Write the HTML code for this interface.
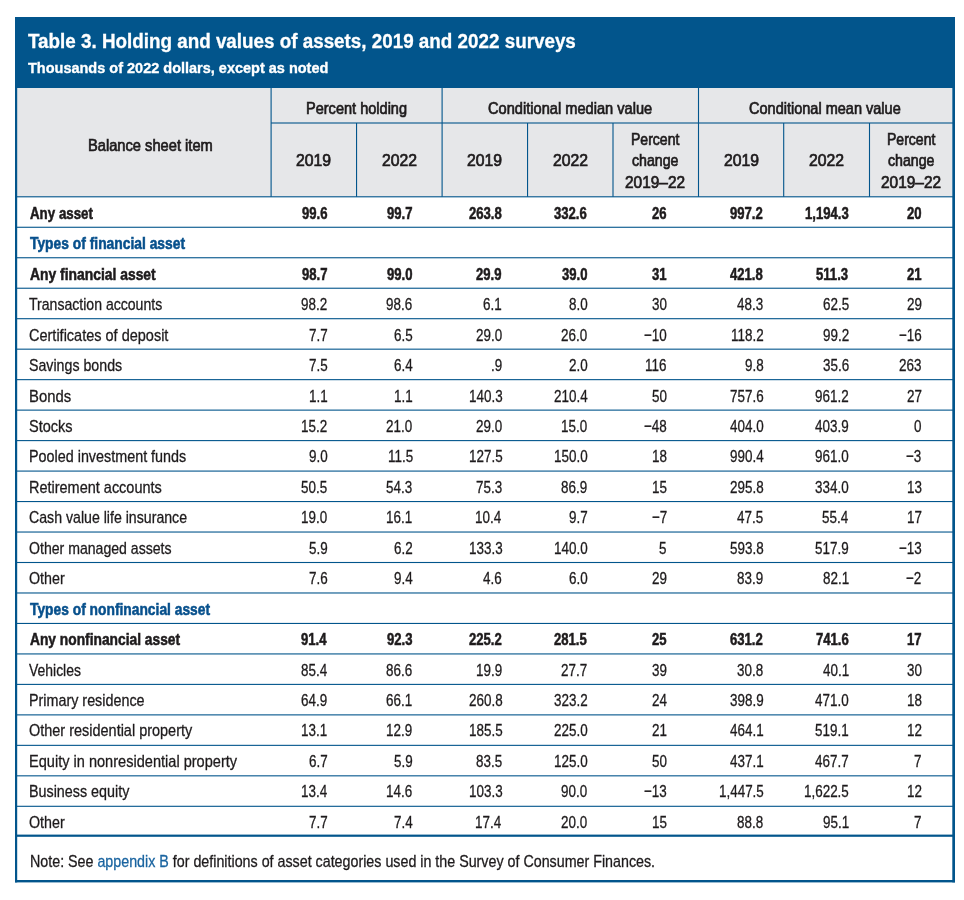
<!DOCTYPE html>
<html><head><meta charset="utf-8"><title>Table 3. Holding and values of assets, 2019 and 2022 surveys</title>
<style>
html,body{margin:0;padding:0;background:#fff;}
body{width:964px;height:900px;position:relative;overflow:hidden;font-family:"Liberation Sans", sans-serif;}
.t{position:absolute;white-space:nowrap;transform-origin:0 0;backface-visibility:hidden;}
</style></head><body>
<div style="position:absolute;left:15px;top:17px;width:940px;height:71px;background:#02558c"></div>
<div style="position:absolute;left:17px;top:88px;width:935px;height:109px;background:#e6e7e9"></div>
<svg width="964" height="900" style="position:absolute;left:0;top:0"><rect x="271.1" y="122.45" width="681.9" height="1.1" fill="#02558c"/><rect x="16" y="196.25" width="937" height="1.1" fill="#02558c"/><rect x="16" y="226.72" width="937" height="1.1" fill="#02558c"/><rect x="16" y="257.20" width="937" height="1.1" fill="#02558c"/><rect x="16" y="287.68" width="937" height="1.1" fill="#02558c"/><rect x="16" y="318.15" width="937" height="1.1" fill="#02558c"/><rect x="16" y="348.62" width="937" height="1.1" fill="#02558c"/><rect x="16" y="379.10" width="937" height="1.1" fill="#02558c"/><rect x="16" y="409.57" width="937" height="1.1" fill="#02558c"/><rect x="16" y="440.05" width="937" height="1.1" fill="#02558c"/><rect x="16" y="470.53" width="937" height="1.1" fill="#02558c"/><rect x="16" y="501.00" width="937" height="1.1" fill="#02558c"/><rect x="16" y="531.48" width="937" height="1.1" fill="#02558c"/><rect x="16" y="561.95" width="937" height="1.1" fill="#02558c"/><rect x="16" y="592.43" width="937" height="1.1" fill="#02558c"/><rect x="16" y="622.90" width="937" height="1.1" fill="#02558c"/><rect x="16" y="653.38" width="937" height="1.1" fill="#02558c"/><rect x="16" y="683.85" width="937" height="1.1" fill="#02558c"/><rect x="16" y="714.33" width="937" height="1.1" fill="#02558c"/><rect x="16" y="744.80" width="937" height="1.1" fill="#02558c"/><rect x="16" y="775.28" width="937" height="1.1" fill="#02558c"/><rect x="16" y="805.75" width="937" height="1.1" fill="#02558c"/><rect x="16" y="834.60" width="937" height="2.2" fill="#02558c"/><rect x="270.55" y="88" width="1.1" height="108.80000000000001" fill="#02558c"/><rect x="356.00" y="123.0" width="1.1" height="73.80000000000001" fill="#02558c"/><rect x="441.55" y="88" width="1.1" height="108.80000000000001" fill="#02558c"/><rect x="527.00" y="123.0" width="1.1" height="73.80000000000001" fill="#02558c"/><rect x="612.45" y="123.0" width="1.1" height="73.80000000000001" fill="#02558c"/><rect x="697.95" y="88" width="1.1" height="108.80000000000001" fill="#02558c"/><rect x="783.15" y="123.0" width="1.1" height="73.80000000000001" fill="#02558c"/><rect x="868.95" y="123.0" width="1.1" height="73.80000000000001" fill="#02558c"/><rect x="15" y="88" width="2.2" height="794.4" fill="#02558c"/><rect x="952.3" y="88" width="2.7" height="794.4" fill="#02558c"/><rect x="15" y="880.0" width="940" height="2.4" fill="#02558c"/></svg>
<div class="t" style="left:27.97px;top:26px;line-height:30px;transform:scaleX(0.9411);font-size:20px;font-weight:700;color:#fff;-webkit-text-stroke:0.3px #fff;">Table 3. Holding and values of assets, 2019 and 2022 surveys</div>
<div class="t" style="left:28.28px;top:53px;line-height:30px;transform:scaleX(0.9541);font-size:15.2px;font-weight:700;color:#fff;-webkit-text-stroke:0.35px #fff;">Thousands of 2022 dollars, except as noted</div>
<div class="t" style="left:87.66px;top:130px;line-height:30px;transform:scaleX(0.8893);font-size:16.5px;font-weight:400;color:#1e1b1c;-webkit-text-stroke:0.7px #1e1b1c;">Balance sheet item</div>
<div class="t" style="left:306.36px;top:93px;line-height:30px;transform:scaleX(0.8811);font-size:16.5px;font-weight:400;color:#1e1b1c;-webkit-text-stroke:0.7px #1e1b1c;">Percent holding</div>
<div class="t" style="left:488.11px;top:93px;line-height:30px;transform:scaleX(0.8860);font-size:16.5px;font-weight:400;color:#1e1b1c;-webkit-text-stroke:0.7px #1e1b1c;">Conditional median value</div>
<div class="t" style="left:749.42px;top:93px;line-height:30px;transform:scaleX(0.8800);font-size:16.5px;font-weight:400;color:#1e1b1c;-webkit-text-stroke:0.7px #1e1b1c;">Conditional mean value</div>
<div class="t" style="left:296.24px;top:145px;line-height:30px;transform:scaleX(0.9550);font-size:16.5px;font-weight:400;color:#1e1b1c;-webkit-text-stroke:0.7px #1e1b1c;">2019</div>
<div class="t" style="left:381.75px;top:145px;line-height:30px;transform:scaleX(0.9550);font-size:16.5px;font-weight:400;color:#1e1b1c;-webkit-text-stroke:0.7px #1e1b1c;">2022</div>
<div class="t" style="left:467.24px;top:145px;line-height:30px;transform:scaleX(0.9550);font-size:16.5px;font-weight:400;color:#1e1b1c;-webkit-text-stroke:0.7px #1e1b1c;">2019</div>
<div class="t" style="left:552.70px;top:145px;line-height:30px;transform:scaleX(0.9550);font-size:16.5px;font-weight:400;color:#1e1b1c;-webkit-text-stroke:0.7px #1e1b1c;">2022</div>
<div class="t" style="left:631.14px;top:124px;line-height:30px;transform:scaleX(0.8499);font-size:16.5px;font-weight:400;color:#1e1b1c;-webkit-text-stroke:0.7px #1e1b1c;">Percent</div>
<div class="t" style="left:632.48px;top:145px;line-height:30px;transform:scaleX(0.8591);font-size:16.5px;font-weight:400;color:#1e1b1c;-webkit-text-stroke:0.7px #1e1b1c;">change</div>
<div class="t" style="left:625.38px;top:167px;line-height:30px;transform:scaleX(0.9349);font-size:16.5px;font-weight:400;color:#1e1b1c;-webkit-text-stroke:0.7px #1e1b1c;">2019–22</div>
<div class="t" style="left:723.51px;top:145px;line-height:30px;transform:scaleX(0.9550);font-size:16.5px;font-weight:400;color:#1e1b1c;-webkit-text-stroke:0.7px #1e1b1c;">2019</div>
<div class="t" style="left:809.02px;top:145px;line-height:30px;transform:scaleX(0.9550);font-size:16.5px;font-weight:400;color:#1e1b1c;-webkit-text-stroke:0.7px #1e1b1c;">2022</div>
<div class="t" style="left:886.89px;top:124px;line-height:30px;transform:scaleX(0.8499);font-size:16.5px;font-weight:400;color:#1e1b1c;-webkit-text-stroke:0.7px #1e1b1c;">Percent</div>
<div class="t" style="left:888.23px;top:145px;line-height:30px;transform:scaleX(0.8591);font-size:16.5px;font-weight:400;color:#1e1b1c;-webkit-text-stroke:0.7px #1e1b1c;">change</div>
<div class="t" style="left:881.13px;top:167px;line-height:30px;transform:scaleX(0.9349);font-size:16.5px;font-weight:400;color:#1e1b1c;-webkit-text-stroke:0.7px #1e1b1c;">2019–22</div>
<div class="t" style="left:29.81px;top:199px;line-height:30px;transform:scaleX(0.8031);font-size:16.6px;font-weight:700;color:#1e1b1c;-webkit-text-stroke:0.55px #1e1b1c;">Any asset</div>
<div class="t" style="left:301.58px;top:199px;line-height:30px;transform:scaleX(0.7900);font-size:16.6px;font-weight:700;color:#1e1b1c;-webkit-text-stroke:0.55px #1e1b1c;">99.6</div>
<div class="t" style="left:387.13px;top:199px;line-height:30px;transform:scaleX(0.7900);font-size:16.6px;font-weight:700;color:#1e1b1c;-webkit-text-stroke:0.55px #1e1b1c;">99.7</div>
<div class="t" style="left:468.87px;top:199px;line-height:30px;transform:scaleX(0.7900);font-size:16.6px;font-weight:700;color:#1e1b1c;-webkit-text-stroke:0.55px #1e1b1c;">263.8</div>
<div class="t" style="left:554.33px;top:199px;line-height:30px;transform:scaleX(0.7900);font-size:16.6px;font-weight:700;color:#1e1b1c;-webkit-text-stroke:0.55px #1e1b1c;">332.6</div>
<div class="t" style="left:651.90px;top:199px;line-height:30px;transform:scaleX(0.7900);font-size:16.6px;font-weight:700;color:#1e1b1c;-webkit-text-stroke:0.55px #1e1b1c;">26</div>
<div class="t" style="left:730.44px;top:199px;line-height:30px;transform:scaleX(0.7900);font-size:16.6px;font-weight:700;color:#1e1b1c;-webkit-text-stroke:0.55px #1e1b1c;">997.2</div>
<div class="t" style="left:804.77px;top:199px;line-height:30px;transform:scaleX(0.7900);font-size:16.6px;font-weight:700;color:#1e1b1c;-webkit-text-stroke:0.55px #1e1b1c;">1,194.3</div>
<div class="t" style="left:906.84px;top:199px;line-height:30px;transform:scaleX(0.7900);font-size:16.6px;font-weight:700;color:#1e1b1c;-webkit-text-stroke:0.55px #1e1b1c;">20</div>
<div class="t" style="left:30.20px;top:229px;line-height:30px;transform:scaleX(0.8335);font-size:16.6px;font-weight:700;color:#07508c;-webkit-text-stroke:0.55px #07508c;">Types of financial asset</div>
<div class="t" style="left:29.80px;top:260px;line-height:30px;transform:scaleX(0.8362);font-size:16.6px;font-weight:700;color:#1e1b1c;-webkit-text-stroke:0.55px #1e1b1c;">Any financial asset</div>
<div class="t" style="left:301.83px;top:260px;line-height:30px;transform:scaleX(0.7900);font-size:16.6px;font-weight:700;color:#1e1b1c;-webkit-text-stroke:0.55px #1e1b1c;">98.7</div>
<div class="t" style="left:387.14px;top:260px;line-height:30px;transform:scaleX(0.7900);font-size:16.6px;font-weight:700;color:#1e1b1c;-webkit-text-stroke:0.55px #1e1b1c;">99.0</div>
<div class="t" style="left:476.18px;top:260px;line-height:30px;transform:scaleX(0.7900);font-size:16.6px;font-weight:700;color:#1e1b1c;-webkit-text-stroke:0.55px #1e1b1c;">29.9</div>
<div class="t" style="left:561.84px;top:260px;line-height:30px;transform:scaleX(0.7900);font-size:16.6px;font-weight:700;color:#1e1b1c;-webkit-text-stroke:0.55px #1e1b1c;">39.0</div>
<div class="t" style="left:651.78px;top:260px;line-height:30px;transform:scaleX(0.7900);font-size:16.6px;font-weight:700;color:#1e1b1c;-webkit-text-stroke:0.55px #1e1b1c;">31</div>
<div class="t" style="left:730.37px;top:260px;line-height:30px;transform:scaleX(0.7900);font-size:16.6px;font-weight:700;color:#1e1b1c;-webkit-text-stroke:0.55px #1e1b1c;">421.8</div>
<div class="t" style="left:816.45px;top:260px;line-height:30px;transform:scaleX(0.7900);font-size:16.6px;font-weight:700;color:#1e1b1c;-webkit-text-stroke:0.55px #1e1b1c;">511.3</div>
<div class="t" style="left:906.68px;top:260px;line-height:30px;transform:scaleX(0.7900);font-size:16.6px;font-weight:700;color:#1e1b1c;-webkit-text-stroke:0.55px #1e1b1c;">21</div>
<div class="t" style="left:29.42px;top:290px;line-height:30px;transform:scaleX(0.8277);font-size:17px;font-weight:400;color:#1e1b1c;-webkit-text-stroke:0.3px #1e1b1c;">Transaction accounts</div>
<div class="t" style="left:301.18px;top:290px;line-height:30px;transform:scaleX(0.7900);font-size:17px;font-weight:400;color:#1e1b1c;-webkit-text-stroke:0.3px #1e1b1c;">98.2</div>
<div class="t" style="left:386.46px;top:290px;line-height:30px;transform:scaleX(0.7900);font-size:17px;font-weight:400;color:#1e1b1c;-webkit-text-stroke:0.3px #1e1b1c;">98.6</div>
<div class="t" style="left:483.20px;top:290px;line-height:30px;transform:scaleX(0.7900);font-size:17px;font-weight:400;color:#1e1b1c;-webkit-text-stroke:0.3px #1e1b1c;">6.1</div>
<div class="t" style="left:568.52px;top:290px;line-height:30px;transform:scaleX(0.7900);font-size:17px;font-weight:400;color:#1e1b1c;-webkit-text-stroke:0.3px #1e1b1c;">8.0</div>
<div class="t" style="left:651.71px;top:290px;line-height:30px;transform:scaleX(0.7900);font-size:17px;font-weight:400;color:#1e1b1c;-webkit-text-stroke:0.3px #1e1b1c;">30</div>
<div class="t" style="left:737.27px;top:290px;line-height:30px;transform:scaleX(0.7900);font-size:17px;font-weight:400;color:#1e1b1c;-webkit-text-stroke:0.3px #1e1b1c;">48.3</div>
<div class="t" style="left:822.64px;top:290px;line-height:30px;transform:scaleX(0.7900);font-size:17px;font-weight:400;color:#1e1b1c;-webkit-text-stroke:0.3px #1e1b1c;">62.5</div>
<div class="t" style="left:906.70px;top:290px;line-height:30px;transform:scaleX(0.7900);font-size:17px;font-weight:400;color:#1e1b1c;-webkit-text-stroke:0.3px #1e1b1c;">29</div>
<div class="t" style="left:29.07px;top:321px;line-height:30px;transform:scaleX(0.8527);font-size:17px;font-weight:400;color:#1e1b1c;-webkit-text-stroke:0.3px #1e1b1c;">Certificates of deposit</div>
<div class="t" style="left:308.61px;top:321px;line-height:30px;transform:scaleX(0.7900);font-size:17px;font-weight:400;color:#1e1b1c;-webkit-text-stroke:0.3px #1e1b1c;">7.7</div>
<div class="t" style="left:393.87px;top:321px;line-height:30px;transform:scaleX(0.7900);font-size:17px;font-weight:400;color:#1e1b1c;-webkit-text-stroke:0.3px #1e1b1c;">6.5</div>
<div class="t" style="left:475.71px;top:321px;line-height:30px;transform:scaleX(0.7900);font-size:17px;font-weight:400;color:#1e1b1c;-webkit-text-stroke:0.3px #1e1b1c;">29.0</div>
<div class="t" style="left:561.11px;top:321px;line-height:30px;transform:scaleX(0.7900);font-size:17px;font-weight:400;color:#1e1b1c;-webkit-text-stroke:0.3px #1e1b1c;">26.0</div>
<div class="t" style="left:643.81px;top:321px;line-height:30px;transform:scaleX(0.7900);font-size:17px;font-weight:400;color:#1e1b1c;-webkit-text-stroke:0.3px #1e1b1c;">−10</div>
<div class="t" style="left:730.96px;top:321px;line-height:30px;transform:scaleX(0.7900);font-size:17px;font-weight:400;color:#1e1b1c;-webkit-text-stroke:0.3px #1e1b1c;">118.2</div>
<div class="t" style="left:822.68px;top:321px;line-height:30px;transform:scaleX(0.7900);font-size:17px;font-weight:400;color:#1e1b1c;-webkit-text-stroke:0.3px #1e1b1c;">99.2</div>
<div class="t" style="left:898.77px;top:321px;line-height:30px;transform:scaleX(0.7900);font-size:17px;font-weight:400;color:#1e1b1c;-webkit-text-stroke:0.3px #1e1b1c;">−16</div>
<div class="t" style="left:29.09px;top:351px;line-height:30px;transform:scaleX(0.8350);font-size:17px;font-weight:400;color:#1e1b1c;-webkit-text-stroke:0.3px #1e1b1c;">Savings bonds</div>
<div class="t" style="left:308.57px;top:351px;line-height:30px;transform:scaleX(0.7900);font-size:17px;font-weight:400;color:#1e1b1c;-webkit-text-stroke:0.3px #1e1b1c;">7.5</div>
<div class="t" style="left:393.68px;top:351px;line-height:30px;transform:scaleX(0.7900);font-size:17px;font-weight:400;color:#1e1b1c;-webkit-text-stroke:0.3px #1e1b1c;">6.4</div>
<div class="t" style="left:490.80px;top:351px;line-height:30px;transform:scaleX(0.7900);font-size:17px;font-weight:400;color:#1e1b1c;-webkit-text-stroke:0.3px #1e1b1c;">.9</div>
<div class="t" style="left:568.52px;top:351px;line-height:30px;transform:scaleX(0.7900);font-size:17px;font-weight:400;color:#1e1b1c;-webkit-text-stroke:0.3px #1e1b1c;">2.0</div>
<div class="t" style="left:645.30px;top:351px;line-height:30px;transform:scaleX(0.7900);font-size:17px;font-weight:400;color:#1e1b1c;-webkit-text-stroke:0.3px #1e1b1c;">116</div>
<div class="t" style="left:744.67px;top:351px;line-height:30px;transform:scaleX(0.7900);font-size:17px;font-weight:400;color:#1e1b1c;-webkit-text-stroke:0.3px #1e1b1c;">9.8</div>
<div class="t" style="left:822.66px;top:351px;line-height:30px;transform:scaleX(0.7900);font-size:17px;font-weight:400;color:#1e1b1c;-webkit-text-stroke:0.3px #1e1b1c;">35.6</div>
<div class="t" style="left:899.31px;top:351px;line-height:30px;transform:scaleX(0.7900);font-size:17px;font-weight:400;color:#1e1b1c;-webkit-text-stroke:0.3px #1e1b1c;">263</div>
<div class="t" style="left:28.52px;top:382px;line-height:30px;transform:scaleX(0.8738);font-size:17px;font-weight:400;color:#1e1b1c;-webkit-text-stroke:0.3px #1e1b1c;">Bonds</div>
<div class="t" style="left:308.60px;top:382px;line-height:30px;transform:scaleX(0.7900);font-size:17px;font-weight:400;color:#1e1b1c;-webkit-text-stroke:0.3px #1e1b1c;">1.1</div>
<div class="t" style="left:393.90px;top:382px;line-height:30px;transform:scaleX(0.7900);font-size:17px;font-weight:400;color:#1e1b1c;-webkit-text-stroke:0.3px #1e1b1c;">1.1</div>
<div class="t" style="left:468.55px;top:382px;line-height:30px;transform:scaleX(0.7900);font-size:17px;font-weight:400;color:#1e1b1c;-webkit-text-stroke:0.3px #1e1b1c;">140.3</div>
<div class="t" style="left:553.54px;top:382px;line-height:30px;transform:scaleX(0.7900);font-size:17px;font-weight:400;color:#1e1b1c;-webkit-text-stroke:0.3px #1e1b1c;">210.4</div>
<div class="t" style="left:651.71px;top:382px;line-height:30px;transform:scaleX(0.7900);font-size:17px;font-weight:400;color:#1e1b1c;-webkit-text-stroke:0.3px #1e1b1c;">50</div>
<div class="t" style="left:730.05px;top:382px;line-height:30px;transform:scaleX(0.7900);font-size:17px;font-weight:400;color:#1e1b1c;-webkit-text-stroke:0.3px #1e1b1c;">757.6</div>
<div class="t" style="left:815.45px;top:382px;line-height:30px;transform:scaleX(0.7900);font-size:17px;font-weight:400;color:#1e1b1c;-webkit-text-stroke:0.3px #1e1b1c;">961.2</div>
<div class="t" style="left:906.71px;top:382px;line-height:30px;transform:scaleX(0.7900);font-size:17px;font-weight:400;color:#1e1b1c;-webkit-text-stroke:0.3px #1e1b1c;">27</div>
<div class="t" style="left:29.07px;top:412px;line-height:30px;transform:scaleX(0.8534);font-size:17px;font-weight:400;color:#1e1b1c;-webkit-text-stroke:0.3px #1e1b1c;">Stocks</div>
<div class="t" style="left:301.18px;top:412px;line-height:30px;transform:scaleX(0.7900);font-size:17px;font-weight:400;color:#1e1b1c;-webkit-text-stroke:0.3px #1e1b1c;">15.2</div>
<div class="t" style="left:386.41px;top:412px;line-height:30px;transform:scaleX(0.7900);font-size:17px;font-weight:400;color:#1e1b1c;-webkit-text-stroke:0.3px #1e1b1c;">21.0</div>
<div class="t" style="left:475.71px;top:412px;line-height:30px;transform:scaleX(0.7900);font-size:17px;font-weight:400;color:#1e1b1c;-webkit-text-stroke:0.3px #1e1b1c;">29.0</div>
<div class="t" style="left:561.11px;top:412px;line-height:30px;transform:scaleX(0.7900);font-size:17px;font-weight:400;color:#1e1b1c;-webkit-text-stroke:0.3px #1e1b1c;">15.0</div>
<div class="t" style="left:643.85px;top:412px;line-height:30px;transform:scaleX(0.7900);font-size:17px;font-weight:400;color:#1e1b1c;-webkit-text-stroke:0.3px #1e1b1c;">−48</div>
<div class="t" style="left:729.76px;top:412px;line-height:30px;transform:scaleX(0.7900);font-size:17px;font-weight:400;color:#1e1b1c;-webkit-text-stroke:0.3px #1e1b1c;">404.0</div>
<div class="t" style="left:815.46px;top:412px;line-height:30px;transform:scaleX(0.7900);font-size:17px;font-weight:400;color:#1e1b1c;-webkit-text-stroke:0.3px #1e1b1c;">403.9</div>
<div class="t" style="left:914.03px;top:412px;line-height:30px;transform:scaleX(0.7900);font-size:17px;font-weight:400;color:#1e1b1c;-webkit-text-stroke:0.3px #1e1b1c;">0</div>
<div class="t" style="left:28.56px;top:442px;line-height:30px;transform:scaleX(0.8446);font-size:17px;font-weight:400;color:#1e1b1c;-webkit-text-stroke:0.3px #1e1b1c;">Pooled investment funds</div>
<div class="t" style="left:308.52px;top:442px;line-height:30px;transform:scaleX(0.7900);font-size:17px;font-weight:400;color:#1e1b1c;-webkit-text-stroke:0.3px #1e1b1c;">9.0</div>
<div class="t" style="left:387.55px;top:442px;line-height:30px;transform:scaleX(0.7900);font-size:17px;font-weight:400;color:#1e1b1c;-webkit-text-stroke:0.3px #1e1b1c;">11.5</div>
<div class="t" style="left:468.53px;top:442px;line-height:30px;transform:scaleX(0.7900);font-size:17px;font-weight:400;color:#1e1b1c;-webkit-text-stroke:0.3px #1e1b1c;">127.5</div>
<div class="t" style="left:553.66px;top:442px;line-height:30px;transform:scaleX(0.7900);font-size:17px;font-weight:400;color:#1e1b1c;-webkit-text-stroke:0.3px #1e1b1c;">150.0</div>
<div class="t" style="left:651.75px;top:442px;line-height:30px;transform:scaleX(0.7900);font-size:17px;font-weight:400;color:#1e1b1c;-webkit-text-stroke:0.3px #1e1b1c;">18</div>
<div class="t" style="left:729.64px;top:442px;line-height:30px;transform:scaleX(0.7900);font-size:17px;font-weight:400;color:#1e1b1c;-webkit-text-stroke:0.3px #1e1b1c;">990.4</div>
<div class="t" style="left:815.16px;top:442px;line-height:30px;transform:scaleX(0.7900);font-size:17px;font-weight:400;color:#1e1b1c;-webkit-text-stroke:0.3px #1e1b1c;">961.0</div>
<div class="t" style="left:906.42px;top:442px;line-height:30px;transform:scaleX(0.7900);font-size:17px;font-weight:400;color:#1e1b1c;-webkit-text-stroke:0.3px #1e1b1c;">−3</div>
<div class="t" style="left:28.55px;top:473px;line-height:30px;transform:scaleX(0.8516);font-size:17px;font-weight:400;color:#1e1b1c;-webkit-text-stroke:0.3px #1e1b1c;">Retirement accounts</div>
<div class="t" style="left:301.14px;top:473px;line-height:30px;transform:scaleX(0.7900);font-size:17px;font-weight:400;color:#1e1b1c;-webkit-text-stroke:0.3px #1e1b1c;">50.5</div>
<div class="t" style="left:386.47px;top:473px;line-height:30px;transform:scaleX(0.7900);font-size:17px;font-weight:400;color:#1e1b1c;-webkit-text-stroke:0.3px #1e1b1c;">54.3</div>
<div class="t" style="left:475.77px;top:473px;line-height:30px;transform:scaleX(0.7900);font-size:17px;font-weight:400;color:#1e1b1c;-webkit-text-stroke:0.3px #1e1b1c;">75.3</div>
<div class="t" style="left:561.19px;top:473px;line-height:30px;transform:scaleX(0.7900);font-size:17px;font-weight:400;color:#1e1b1c;-webkit-text-stroke:0.3px #1e1b1c;">86.9</div>
<div class="t" style="left:651.75px;top:473px;line-height:30px;transform:scaleX(0.7900);font-size:17px;font-weight:400;color:#1e1b1c;-webkit-text-stroke:0.3px #1e1b1c;">15</div>
<div class="t" style="left:730.04px;top:473px;line-height:30px;transform:scaleX(0.7900);font-size:17px;font-weight:400;color:#1e1b1c;-webkit-text-stroke:0.3px #1e1b1c;">295.8</div>
<div class="t" style="left:815.16px;top:473px;line-height:30px;transform:scaleX(0.7900);font-size:17px;font-weight:400;color:#1e1b1c;-webkit-text-stroke:0.3px #1e1b1c;">334.0</div>
<div class="t" style="left:906.68px;top:473px;line-height:30px;transform:scaleX(0.7900);font-size:17px;font-weight:400;color:#1e1b1c;-webkit-text-stroke:0.3px #1e1b1c;">13</div>
<div class="t" style="left:29.08px;top:503px;line-height:30px;transform:scaleX(0.8322);font-size:17px;font-weight:400;color:#1e1b1c;-webkit-text-stroke:0.3px #1e1b1c;">Cash value life insurance</div>
<div class="t" style="left:301.11px;top:503px;line-height:30px;transform:scaleX(0.7900);font-size:17px;font-weight:400;color:#1e1b1c;-webkit-text-stroke:0.3px #1e1b1c;">19.0</div>
<div class="t" style="left:386.46px;top:503px;line-height:30px;transform:scaleX(0.7900);font-size:17px;font-weight:400;color:#1e1b1c;-webkit-text-stroke:0.3px #1e1b1c;">16.1</div>
<div class="t" style="left:475.39px;top:503px;line-height:30px;transform:scaleX(0.7900);font-size:17px;font-weight:400;color:#1e1b1c;-webkit-text-stroke:0.3px #1e1b1c;">10.4</div>
<div class="t" style="left:568.61px;top:503px;line-height:30px;transform:scaleX(0.7900);font-size:17px;font-weight:400;color:#1e1b1c;-webkit-text-stroke:0.3px #1e1b1c;">9.7</div>
<div class="t" style="left:651.52px;top:503px;line-height:30px;transform:scaleX(0.7900);font-size:17px;font-weight:400;color:#1e1b1c;-webkit-text-stroke:0.3px #1e1b1c;">−7</div>
<div class="t" style="left:737.24px;top:503px;line-height:30px;transform:scaleX(0.7900);font-size:17px;font-weight:400;color:#1e1b1c;-webkit-text-stroke:0.3px #1e1b1c;">47.5</div>
<div class="t" style="left:822.29px;top:503px;line-height:30px;transform:scaleX(0.7900);font-size:17px;font-weight:400;color:#1e1b1c;-webkit-text-stroke:0.3px #1e1b1c;">55.4</div>
<div class="t" style="left:906.71px;top:503px;line-height:30px;transform:scaleX(0.7900);font-size:17px;font-weight:400;color:#1e1b1c;-webkit-text-stroke:0.3px #1e1b1c;">17</div>
<div class="t" style="left:29.11px;top:534px;line-height:30px;transform:scaleX(0.8290);font-size:17px;font-weight:400;color:#1e1b1c;-webkit-text-stroke:0.3px #1e1b1c;">Other managed assets</div>
<div class="t" style="left:308.59px;top:534px;line-height:30px;transform:scaleX(0.7900);font-size:17px;font-weight:400;color:#1e1b1c;-webkit-text-stroke:0.3px #1e1b1c;">5.9</div>
<div class="t" style="left:393.91px;top:534px;line-height:30px;transform:scaleX(0.7900);font-size:17px;font-weight:400;color:#1e1b1c;-webkit-text-stroke:0.3px #1e1b1c;">6.2</div>
<div class="t" style="left:468.55px;top:534px;line-height:30px;transform:scaleX(0.7900);font-size:17px;font-weight:400;color:#1e1b1c;-webkit-text-stroke:0.3px #1e1b1c;">133.3</div>
<div class="t" style="left:553.66px;top:534px;line-height:30px;transform:scaleX(0.7900);font-size:17px;font-weight:400;color:#1e1b1c;-webkit-text-stroke:0.3px #1e1b1c;">140.0</div>
<div class="t" style="left:659.40px;top:534px;line-height:30px;transform:scaleX(0.7900);font-size:17px;font-weight:400;color:#1e1b1c;-webkit-text-stroke:0.3px #1e1b1c;">5</div>
<div class="t" style="left:730.04px;top:534px;line-height:30px;transform:scaleX(0.7900);font-size:17px;font-weight:400;color:#1e1b1c;-webkit-text-stroke:0.3px #1e1b1c;">593.8</div>
<div class="t" style="left:815.46px;top:534px;line-height:30px;transform:scaleX(0.7900);font-size:17px;font-weight:400;color:#1e1b1c;-webkit-text-stroke:0.3px #1e1b1c;">517.9</div>
<div class="t" style="left:898.78px;top:534px;line-height:30px;transform:scaleX(0.7900);font-size:17px;font-weight:400;color:#1e1b1c;-webkit-text-stroke:0.3px #1e1b1c;">−13</div>
<div class="t" style="left:29.10px;top:564px;line-height:30px;transform:scaleX(0.8398);font-size:17px;font-weight:400;color:#1e1b1c;-webkit-text-stroke:0.3px #1e1b1c;">Other</div>
<div class="t" style="left:308.58px;top:564px;line-height:30px;transform:scaleX(0.7900);font-size:17px;font-weight:400;color:#1e1b1c;-webkit-text-stroke:0.3px #1e1b1c;">7.6</div>
<div class="t" style="left:393.68px;top:564px;line-height:30px;transform:scaleX(0.7900);font-size:17px;font-weight:400;color:#1e1b1c;-webkit-text-stroke:0.3px #1e1b1c;">9.4</div>
<div class="t" style="left:483.18px;top:564px;line-height:30px;transform:scaleX(0.7900);font-size:17px;font-weight:400;color:#1e1b1c;-webkit-text-stroke:0.3px #1e1b1c;">4.6</div>
<div class="t" style="left:568.52px;top:564px;line-height:30px;transform:scaleX(0.7900);font-size:17px;font-weight:400;color:#1e1b1c;-webkit-text-stroke:0.3px #1e1b1c;">6.0</div>
<div class="t" style="left:651.80px;top:564px;line-height:30px;transform:scaleX(0.7900);font-size:17px;font-weight:400;color:#1e1b1c;-webkit-text-stroke:0.3px #1e1b1c;">29</div>
<div class="t" style="left:737.29px;top:564px;line-height:30px;transform:scaleX(0.7900);font-size:17px;font-weight:400;color:#1e1b1c;-webkit-text-stroke:0.3px #1e1b1c;">83.9</div>
<div class="t" style="left:822.66px;top:564px;line-height:30px;transform:scaleX(0.7900);font-size:17px;font-weight:400;color:#1e1b1c;-webkit-text-stroke:0.3px #1e1b1c;">82.1</div>
<div class="t" style="left:906.42px;top:564px;line-height:30px;transform:scaleX(0.7900);font-size:17px;font-weight:400;color:#1e1b1c;-webkit-text-stroke:0.3px #1e1b1c;">−2</div>
<div class="t" style="left:30.20px;top:595px;line-height:30px;transform:scaleX(0.8321);font-size:16.6px;font-weight:700;color:#07508c;-webkit-text-stroke:0.55px #07508c;">Types of nonfinancial asset</div>
<div class="t" style="left:29.80px;top:625px;line-height:30px;transform:scaleX(0.8305);font-size:16.6px;font-weight:700;color:#1e1b1c;-webkit-text-stroke:0.55px #1e1b1c;">Any nonfinancial asset</div>
<div class="t" style="left:301.23px;top:625px;line-height:30px;transform:scaleX(0.7900);font-size:16.6px;font-weight:700;color:#1e1b1c;-webkit-text-stroke:0.55px #1e1b1c;">91.4</div>
<div class="t" style="left:386.88px;top:625px;line-height:30px;transform:scaleX(0.7900);font-size:16.6px;font-weight:700;color:#1e1b1c;-webkit-text-stroke:0.55px #1e1b1c;">92.3</div>
<div class="t" style="left:468.94px;top:625px;line-height:30px;transform:scaleX(0.7900);font-size:16.6px;font-weight:700;color:#1e1b1c;-webkit-text-stroke:0.55px #1e1b1c;">225.2</div>
<div class="t" style="left:554.23px;top:625px;line-height:30px;transform:scaleX(0.7900);font-size:16.6px;font-weight:700;color:#1e1b1c;-webkit-text-stroke:0.55px #1e1b1c;">281.5</div>
<div class="t" style="left:651.80px;top:625px;line-height:30px;transform:scaleX(0.7900);font-size:16.6px;font-weight:700;color:#1e1b1c;-webkit-text-stroke:0.55px #1e1b1c;">25</div>
<div class="t" style="left:730.44px;top:625px;line-height:30px;transform:scaleX(0.7900);font-size:16.6px;font-weight:700;color:#1e1b1c;-webkit-text-stroke:0.55px #1e1b1c;">631.2</div>
<div class="t" style="left:815.83px;top:625px;line-height:30px;transform:scaleX(0.7900);font-size:16.6px;font-weight:700;color:#1e1b1c;-webkit-text-stroke:0.55px #1e1b1c;">741.6</div>
<div class="t" style="left:906.88px;top:625px;line-height:30px;transform:scaleX(0.7900);font-size:16.6px;font-weight:700;color:#1e1b1c;-webkit-text-stroke:0.55px #1e1b1c;">17</div>
<div class="t" style="left:29.46px;top:656px;line-height:30px;transform:scaleX(0.8205);font-size:17px;font-weight:400;color:#1e1b1c;-webkit-text-stroke:0.3px #1e1b1c;">Vehicles</div>
<div class="t" style="left:300.79px;top:656px;line-height:30px;transform:scaleX(0.7900);font-size:17px;font-weight:400;color:#1e1b1c;-webkit-text-stroke:0.3px #1e1b1c;">85.4</div>
<div class="t" style="left:386.46px;top:656px;line-height:30px;transform:scaleX(0.7900);font-size:17px;font-weight:400;color:#1e1b1c;-webkit-text-stroke:0.3px #1e1b1c;">86.6</div>
<div class="t" style="left:475.79px;top:656px;line-height:30px;transform:scaleX(0.7900);font-size:17px;font-weight:400;color:#1e1b1c;-webkit-text-stroke:0.3px #1e1b1c;">19.9</div>
<div class="t" style="left:561.18px;top:656px;line-height:30px;transform:scaleX(0.7900);font-size:17px;font-weight:400;color:#1e1b1c;-webkit-text-stroke:0.3px #1e1b1c;">27.7</div>
<div class="t" style="left:651.80px;top:656px;line-height:30px;transform:scaleX(0.7900);font-size:17px;font-weight:400;color:#1e1b1c;-webkit-text-stroke:0.3px #1e1b1c;">39</div>
<div class="t" style="left:737.26px;top:656px;line-height:30px;transform:scaleX(0.7900);font-size:17px;font-weight:400;color:#1e1b1c;-webkit-text-stroke:0.3px #1e1b1c;">30.8</div>
<div class="t" style="left:822.66px;top:656px;line-height:30px;transform:scaleX(0.7900);font-size:17px;font-weight:400;color:#1e1b1c;-webkit-text-stroke:0.3px #1e1b1c;">40.1</div>
<div class="t" style="left:906.61px;top:656px;line-height:30px;transform:scaleX(0.7900);font-size:17px;font-weight:400;color:#1e1b1c;-webkit-text-stroke:0.3px #1e1b1c;">30</div>
<div class="t" style="left:28.56px;top:686px;line-height:30px;transform:scaleX(0.8434);font-size:17px;font-weight:400;color:#1e1b1c;-webkit-text-stroke:0.3px #1e1b1c;">Primary residence</div>
<div class="t" style="left:301.19px;top:686px;line-height:30px;transform:scaleX(0.7900);font-size:17px;font-weight:400;color:#1e1b1c;-webkit-text-stroke:0.3px #1e1b1c;">64.9</div>
<div class="t" style="left:386.46px;top:686px;line-height:30px;transform:scaleX(0.7900);font-size:17px;font-weight:400;color:#1e1b1c;-webkit-text-stroke:0.3px #1e1b1c;">66.1</div>
<div class="t" style="left:468.54px;top:686px;line-height:30px;transform:scaleX(0.7900);font-size:17px;font-weight:400;color:#1e1b1c;-webkit-text-stroke:0.3px #1e1b1c;">260.8</div>
<div class="t" style="left:553.95px;top:686px;line-height:30px;transform:scaleX(0.7900);font-size:17px;font-weight:400;color:#1e1b1c;-webkit-text-stroke:0.3px #1e1b1c;">323.2</div>
<div class="t" style="left:651.58px;top:686px;line-height:30px;transform:scaleX(0.7900);font-size:17px;font-weight:400;color:#1e1b1c;-webkit-text-stroke:0.3px #1e1b1c;">24</div>
<div class="t" style="left:730.06px;top:686px;line-height:30px;transform:scaleX(0.7900);font-size:17px;font-weight:400;color:#1e1b1c;-webkit-text-stroke:0.3px #1e1b1c;">398.9</div>
<div class="t" style="left:815.16px;top:686px;line-height:30px;transform:scaleX(0.7900);font-size:17px;font-weight:400;color:#1e1b1c;-webkit-text-stroke:0.3px #1e1b1c;">471.0</div>
<div class="t" style="left:906.65px;top:686px;line-height:30px;transform:scaleX(0.7900);font-size:17px;font-weight:400;color:#1e1b1c;-webkit-text-stroke:0.3px #1e1b1c;">18</div>
<div class="t" style="left:29.09px;top:716px;line-height:30px;transform:scaleX(0.8509);font-size:17px;font-weight:400;color:#1e1b1c;-webkit-text-stroke:0.3px #1e1b1c;">Other residential property</div>
<div class="t" style="left:301.16px;top:716px;line-height:30px;transform:scaleX(0.7900);font-size:17px;font-weight:400;color:#1e1b1c;-webkit-text-stroke:0.3px #1e1b1c;">13.1</div>
<div class="t" style="left:386.49px;top:716px;line-height:30px;transform:scaleX(0.7900);font-size:17px;font-weight:400;color:#1e1b1c;-webkit-text-stroke:0.3px #1e1b1c;">12.9</div>
<div class="t" style="left:468.53px;top:716px;line-height:30px;transform:scaleX(0.7900);font-size:17px;font-weight:400;color:#1e1b1c;-webkit-text-stroke:0.3px #1e1b1c;">185.5</div>
<div class="t" style="left:553.66px;top:716px;line-height:30px;transform:scaleX(0.7900);font-size:17px;font-weight:400;color:#1e1b1c;-webkit-text-stroke:0.3px #1e1b1c;">225.0</div>
<div class="t" style="left:651.78px;top:716px;line-height:30px;transform:scaleX(0.7900);font-size:17px;font-weight:400;color:#1e1b1c;-webkit-text-stroke:0.3px #1e1b1c;">21</div>
<div class="t" style="left:730.04px;top:716px;line-height:30px;transform:scaleX(0.7900);font-size:17px;font-weight:400;color:#1e1b1c;-webkit-text-stroke:0.3px #1e1b1c;">464.1</div>
<div class="t" style="left:815.44px;top:716px;line-height:30px;transform:scaleX(0.7900);font-size:17px;font-weight:400;color:#1e1b1c;-webkit-text-stroke:0.3px #1e1b1c;">519.1</div>
<div class="t" style="left:906.71px;top:716px;line-height:30px;transform:scaleX(0.7900);font-size:17px;font-weight:400;color:#1e1b1c;-webkit-text-stroke:0.3px #1e1b1c;">12</div>
<div class="t" style="left:28.54px;top:747px;line-height:30px;transform:scaleX(0.8569);font-size:17px;font-weight:400;color:#1e1b1c;-webkit-text-stroke:0.3px #1e1b1c;">Equity in nonresidential property</div>
<div class="t" style="left:308.61px;top:747px;line-height:30px;transform:scaleX(0.7900);font-size:17px;font-weight:400;color:#1e1b1c;-webkit-text-stroke:0.3px #1e1b1c;">6.7</div>
<div class="t" style="left:393.89px;top:747px;line-height:30px;transform:scaleX(0.7900);font-size:17px;font-weight:400;color:#1e1b1c;-webkit-text-stroke:0.3px #1e1b1c;">5.9</div>
<div class="t" style="left:475.74px;top:747px;line-height:30px;transform:scaleX(0.7900);font-size:17px;font-weight:400;color:#1e1b1c;-webkit-text-stroke:0.3px #1e1b1c;">83.5</div>
<div class="t" style="left:553.66px;top:747px;line-height:30px;transform:scaleX(0.7900);font-size:17px;font-weight:400;color:#1e1b1c;-webkit-text-stroke:0.3px #1e1b1c;">125.0</div>
<div class="t" style="left:651.71px;top:747px;line-height:30px;transform:scaleX(0.7900);font-size:17px;font-weight:400;color:#1e1b1c;-webkit-text-stroke:0.3px #1e1b1c;">50</div>
<div class="t" style="left:730.04px;top:747px;line-height:30px;transform:scaleX(0.7900);font-size:17px;font-weight:400;color:#1e1b1c;-webkit-text-stroke:0.3px #1e1b1c;">437.1</div>
<div class="t" style="left:815.45px;top:747px;line-height:30px;transform:scaleX(0.7900);font-size:17px;font-weight:400;color:#1e1b1c;-webkit-text-stroke:0.3px #1e1b1c;">467.7</div>
<div class="t" style="left:914.32px;top:747px;line-height:30px;transform:scaleX(0.7900);font-size:17px;font-weight:400;color:#1e1b1c;-webkit-text-stroke:0.3px #1e1b1c;">7</div>
<div class="t" style="left:28.56px;top:777px;line-height:30px;transform:scaleX(0.8425);font-size:17px;font-weight:400;color:#1e1b1c;-webkit-text-stroke:0.3px #1e1b1c;">Business equity</div>
<div class="t" style="left:300.79px;top:777px;line-height:30px;transform:scaleX(0.7900);font-size:17px;font-weight:400;color:#1e1b1c;-webkit-text-stroke:0.3px #1e1b1c;">13.4</div>
<div class="t" style="left:386.46px;top:777px;line-height:30px;transform:scaleX(0.7900);font-size:17px;font-weight:400;color:#1e1b1c;-webkit-text-stroke:0.3px #1e1b1c;">14.6</div>
<div class="t" style="left:468.55px;top:777px;line-height:30px;transform:scaleX(0.7900);font-size:17px;font-weight:400;color:#1e1b1c;-webkit-text-stroke:0.3px #1e1b1c;">103.3</div>
<div class="t" style="left:561.11px;top:777px;line-height:30px;transform:scaleX(0.7900);font-size:17px;font-weight:400;color:#1e1b1c;-webkit-text-stroke:0.3px #1e1b1c;">90.0</div>
<div class="t" style="left:643.88px;top:777px;line-height:30px;transform:scaleX(0.7900);font-size:17px;font-weight:400;color:#1e1b1c;-webkit-text-stroke:0.3px #1e1b1c;">−13</div>
<div class="t" style="left:718.60px;top:777px;line-height:30px;transform:scaleX(0.7900);font-size:17px;font-weight:400;color:#1e1b1c;-webkit-text-stroke:0.3px #1e1b1c;">1,447.5</div>
<div class="t" style="left:804.00px;top:777px;line-height:30px;transform:scaleX(0.7900);font-size:17px;font-weight:400;color:#1e1b1c;-webkit-text-stroke:0.3px #1e1b1c;">1,622.5</div>
<div class="t" style="left:906.71px;top:777px;line-height:30px;transform:scaleX(0.7900);font-size:17px;font-weight:400;color:#1e1b1c;-webkit-text-stroke:0.3px #1e1b1c;">12</div>
<div class="t" style="left:29.10px;top:808px;line-height:30px;transform:scaleX(0.8398);font-size:17px;font-weight:400;color:#1e1b1c;-webkit-text-stroke:0.3px #1e1b1c;">Other</div>
<div class="t" style="left:308.61px;top:808px;line-height:30px;transform:scaleX(0.7900);font-size:17px;font-weight:400;color:#1e1b1c;-webkit-text-stroke:0.3px #1e1b1c;">7.7</div>
<div class="t" style="left:393.68px;top:808px;line-height:30px;transform:scaleX(0.7900);font-size:17px;font-weight:400;color:#1e1b1c;-webkit-text-stroke:0.3px #1e1b1c;">7.4</div>
<div class="t" style="left:475.39px;top:808px;line-height:30px;transform:scaleX(0.7900);font-size:17px;font-weight:400;color:#1e1b1c;-webkit-text-stroke:0.3px #1e1b1c;">17.4</div>
<div class="t" style="left:561.11px;top:808px;line-height:30px;transform:scaleX(0.7900);font-size:17px;font-weight:400;color:#1e1b1c;-webkit-text-stroke:0.3px #1e1b1c;">20.0</div>
<div class="t" style="left:651.75px;top:808px;line-height:30px;transform:scaleX(0.7900);font-size:17px;font-weight:400;color:#1e1b1c;-webkit-text-stroke:0.3px #1e1b1c;">15</div>
<div class="t" style="left:737.26px;top:808px;line-height:30px;transform:scaleX(0.7900);font-size:17px;font-weight:400;color:#1e1b1c;-webkit-text-stroke:0.3px #1e1b1c;">88.8</div>
<div class="t" style="left:822.66px;top:808px;line-height:30px;transform:scaleX(0.7900);font-size:17px;font-weight:400;color:#1e1b1c;-webkit-text-stroke:0.3px #1e1b1c;">95.1</div>
<div class="t" style="left:914.32px;top:808px;line-height:30px;transform:scaleX(0.7900);font-size:17px;font-weight:400;color:#1e1b1c;-webkit-text-stroke:0.3px #1e1b1c;">7</div>
<div class="t" style="left:29.57px;top:847px;line-height:30px;transform:scaleX(0.8394);font-size:17px;font-weight:400;color:#1e1b1c;-webkit-text-stroke:0.3px #1e1b1c;">Note: See <span style="color:#1a64a0;-webkit-text-stroke-color:#1a64a0">appendix B</span> for definitions of asset categories used in the Survey of Consumer Finances.</div>
</body></html>
